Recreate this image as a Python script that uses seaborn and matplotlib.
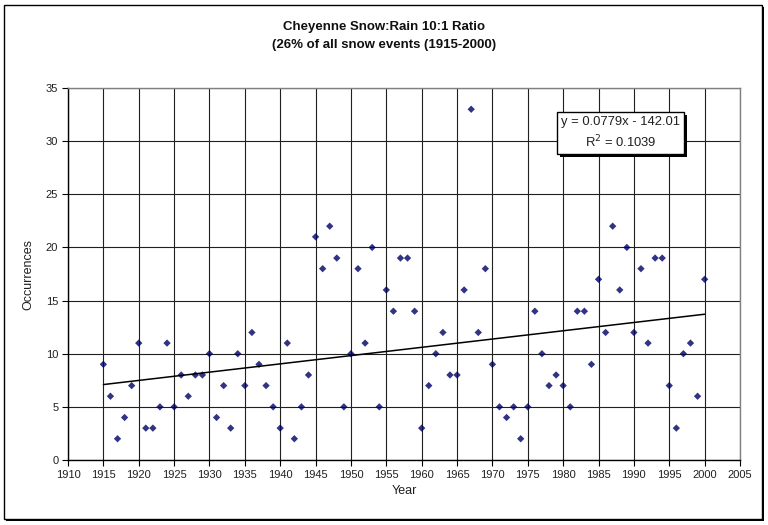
import numpy as np
import pandas as pd
import seaborn as sns
import matplotlib
matplotlib.use("Agg")
import matplotlib.pyplot as plt
from matplotlib.patches import Rectangle

years = list(range(1915, 2001))
occurrences = [9, 6, 2, 4, 7, 11, 3, 3, 5, 11,
               5, 8, 6, 8, 8, 10, 4, 7, 3, 10,
               7, 12, 9, 7, 5, 3, 11, 2, 5, 8,
               21, 18, 22, 19, 5, 10, 18, 11, 20, 5,
               16, 14, 19, 19, 14, 3, 7, 10, 12, 8,
               8, 16, 33, 12, 18, 9, 5, 4, 5, 2,
               5, 14, 10, 7, 8, 7, 5, 14, 14, 9,
               17, 12, 22, 16, 20, 12, 18, 11, 19, 19,
               7, 3, 10, 11, 6, 17]
title_lines = ["Cheyenne Snow:Rain 10:1 Ratio", "(26% of all snow events (1915-2000)"]
eq_text = "y = 0.0779x - 142.01\nR$^2$ = 0.1039"
x_ticks = list(range(1910, 2006, 5))
y_ticks = list(range(0, 36, 5))

df = pd.DataFrame({"Year": years, "Occurrences": occurrences})

sns.set_theme(style="white")
plt.rcParams['font.family'] = ['Liberation Sans', 'DejaVu Sans']

fig = plt.figure(figsize=(7.68, 5.25), dpi=100)
ax = fig.add_axes([68/768, 1-460/525, (740-68)/768, (460-88)/525])

grid_c = '#202020'
sns.regplot(data=df, x="Year", y="Occurrences", ax=ax, ci=None,
            marker="D", truncate=True,
            scatter_kws=dict(s=14, color='#000066', edgecolor='none', zorder=3),
            line_kws=dict(color='black', lw=1.1, zorder=4))

ax.set_xlim(1910, 2005)
ax.set_ylim(0, 35)
ax.set_xticks(x_ticks)
ax.set_yticks(y_ticks)
ax.grid(True, color=grid_c, lw=0.8)
ax.set_axisbelow(True)
for s in ['top', 'right']:
    ax.spines[s].set_color('#808080')
    ax.spines[s].set_linewidth(1.0)
for s in ['left', 'bottom']:
    ax.spines[s].set_color('black')
    ax.spines[s].set_linewidth(1.0)
ax.tick_params(axis='both', which='major', length=4, width=0.8, direction='out',
               color='black', labelsize=8, labelcolor='#202020', pad=3,
               bottom=True, left=True)
ax.set_xlabel("Year", fontsize=9, color='#202020', labelpad=4)
ax.set_ylabel("Occurrences", fontsize=9, color='#202020', labelpad=8)

fig.text(0.5, 1-27/525, title_lines[0], ha='center', va='center', fontsize=9.5,
         fontweight='bold', color='#101010')
fig.text(0.5, 1-45/525, title_lines[1], ha='center', va='center', fontsize=9.5,
         fontweight='bold', color='#101010')

# equation box with shadow
bx0, by0, bx1, by1 = 557, 112, 684, 154
fig.patches.append(Rectangle(((bx0+3)/768, 1-(by1+3)/525), (bx1-bx0)/768, (by1-by0)/525,
                             transform=fig.transFigure, facecolor='black', edgecolor='none', zorder=5))
fig.patches.append(Rectangle((bx0/768, 1-by1/525), (bx1-bx0)/768, (by1-by0)/525,
                             transform=fig.transFigure, facecolor='white', edgecolor='black', lw=1, zorder=6))
fig.text((bx0+bx1)/2/768, 1-(by0+by1)/2/525, eq_text, ha='center', va='center',
         fontsize=9.4, color='#202020', linespacing=1.4, zorder=7)

# outer frame with shadow
fig.patches.append(Rectangle((6/768, 1-521/525), 758/768, 514/525,
                             transform=fig.transFigure, facecolor='black', edgecolor='none', zorder=-2))
fig.patches.append(Rectangle((4/768, 1-519/525), 758/768, 514/525,
                             transform=fig.transFigure, facecolor='white', edgecolor='black', lw=1, zorder=-1))

fig.savefig("out.png", dpi=100)
